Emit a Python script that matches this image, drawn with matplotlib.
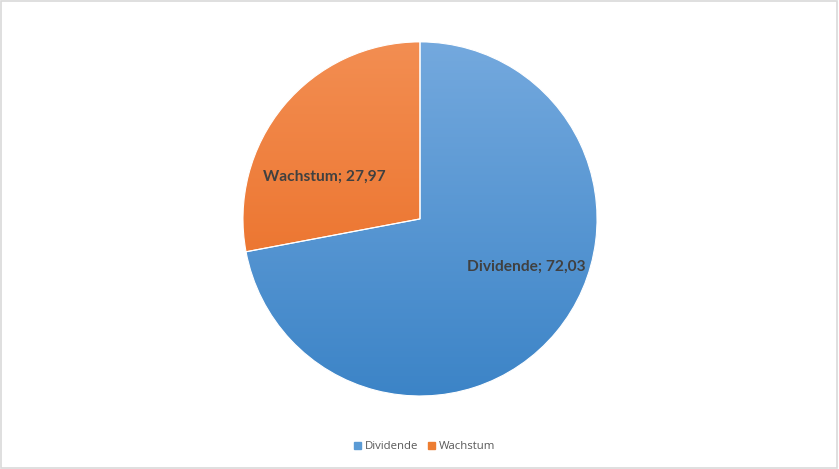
import numpy as np
import matplotlib
matplotlib.use("Agg")
import matplotlib.pyplot as plt
from matplotlib.colors import LinearSegmentedColormap
from matplotlib.patches import Rectangle

# data
categories = ["Dividende", "Wachstum"]
values = [72.03, 27.97]
# gradient colours (top, bottom) per slice
grad_colors = [("#74a9de", "#3c84c7"), ("#f38e52", "#e8671c")]
legend_colors = ["#5b9bd5", "#ed7d31"]

fig = plt.figure(figsize=(8.39, 4.69), dpi=100)
fig.patches.append(Rectangle((0.001, 0.002), 0.997, 0.995, transform=fig.transFigure,
                             fill=False, edgecolor="#d9d9d9", linewidth=1.2))

ax = fig.add_axes([0.2896, 0.1557, 0.422, 0.755])
wedges, _ = ax.pie(values, startangle=90, counterclock=False,
                   colors=legend_colors, radius=1,
                   wedgeprops=dict(edgecolor="white", linewidth=0.8))
ax.set_xlim(-1, 1); ax.set_ylim(-1, 1)

# vertical gradient clipped to each wedge
yy = np.linspace(1, 0, 256).reshape(-1, 1)
for w, (top, bot) in zip(wedges, grad_colors):
    cmap = LinearSegmentedColormap.from_list("g", [bot, top])
    w.set_facecolor("none")
    im = ax.imshow(yy, cmap=cmap, extent=(-1, 1, -1, 1), aspect="auto",
                   origin="upper", zorder=0.5)
    im.set_clip_path(w)

# data labels (Excel best-fit placement)
label_pos = [(0.60, -0.27), (-0.54, 0.24)]
for cat, val, (x, y) in zip(categories, values, label_pos):
    ax.text(x, y, f"{cat}; {val:.2f}".replace(".", ","), ha="center", va="center",
            fontsize=11.2, fontweight="bold", color="#404040", family="Lato", zorder=3)

handles = [Rectangle((0, 0), 1, 1, color=c) for c in legend_colors]
fig.legend(handles, categories, loc="center", bbox_to_anchor=(0.506, 0.047), ncol=2,
           frameon=False, handlelength=0.6, handleheight=0.6,
           handletextpad=0.3, columnspacing=0.9, labelcolor="#595959",
           prop={"family": "Open Sans", "size": 8.2})

fig.savefig("out.png", dpi=100)
